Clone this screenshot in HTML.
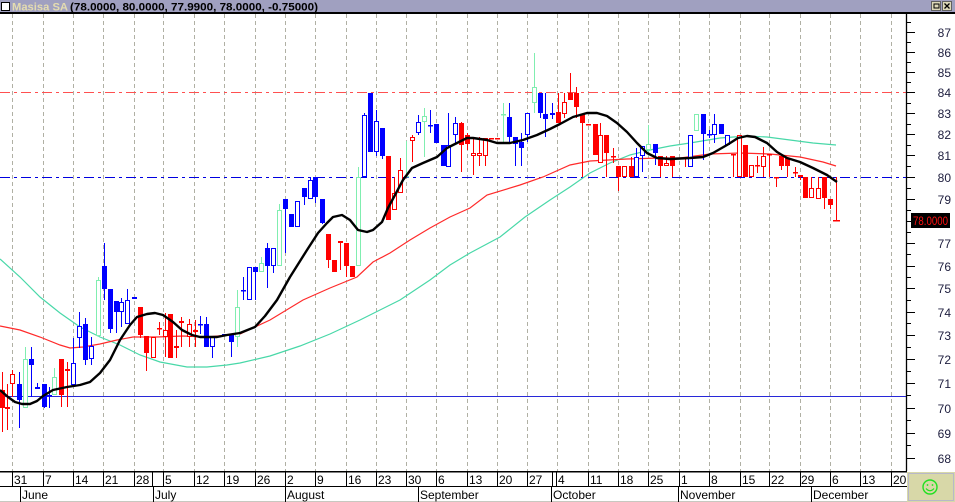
<!DOCTYPE html>
<html><head><meta charset="utf-8"><style>
html,body{margin:0;padding:0;background:#fff;}
svg{display:block;font-family:"Liberation Sans",Arial,sans-serif;}
.B{fill:#0000ff}.b{fill:#fff;stroke:#0000ff;stroke-width:1}
.R{fill:#ff0000}.r{fill:#fff;stroke:#ff0000;stroke-width:1}
.g{fill:#fff;stroke:#80eeb0;stroke-width:1}.G{fill:#80eeb0}
.yl{font-size:12px;fill:#202040;text-anchor:end}
.dl{font-size:12px;fill:#000}
</style></head><body>
<svg width="955" height="502" viewBox="0 0 955 502" xmlns="http://www.w3.org/2000/svg">
<rect x="0" y="0" width="955" height="502" fill="#fff"/>
<!-- title bar -->
<rect x="0" y="0" width="955" height="12" fill="#a0a0c0"/>
<rect x="0" y="12" width="955" height="2" fill="#000"/>
<rect x="1.5" y="2.5" width="8" height="8" fill="#fff" stroke="#000"/>
<text x="12" y="10.5" font-size="11" font-weight="bold" fill="#e4dcb0" textLength="56" lengthAdjust="spacingAndGlyphs">Masisa SA</text>
<text x="70" y="10.5" font-size="11" font-weight="bold" fill="#000" textLength="248" lengthAdjust="spacingAndGlyphs">(78.0000, 80.0000, 77.9900, 78.0000, -0.75000)</text>
<rect x="931.5" y="1.5" width="9" height="9" fill="#dcd8b8" stroke="#606060"/>
<rect x="934" y="4" width="5" height="4" fill="none" stroke="#000"/>
<rect x="942.5" y="1.5" width="9" height="9" fill="#dcd8b8" stroke="#606060"/>
<path d="M944.5 3.5L949.5 8.5M949.5 3.5L944.5 8.5" stroke="#000" stroke-width="1.3"/>

<!-- vertical dashed grid -->
<g stroke="#b0b0a4" stroke-width="1" stroke-dasharray="4 3">
<path d="M12.5 14V471M43.5 14V471M73.5 14V471M103.5 14V471M134.5 14V471M163.5 14V471M194.5 14V471M224.5 14V471M255.5 14V471M285.5 14V471M315.5 14V471M346.5 14V471M376.5 14V471M406.5 14V471M436.5 14V471M467.5 14V471M497.5 14V471M527.5 14V471M557.5 14V471M588.5 14V471M618.5 14V471M648.5 14V471M679.5 14V471M709.5 14V471M740.5 14V471M769.5 14V471M800.5 14V471M830.5 14V471M860.5 14V471M891.5 14V471"/>
</g>

<!-- horizontal reference lines -->
<path d="M0 92.5H906" stroke="#ff5050" stroke-width="1" stroke-dasharray="10 4 3 4"/>
<path d="M0 177.5H906" stroke="#0000e0" stroke-width="1" stroke-dasharray="10 4 3 4"/>
<path d="M0 396.5H906" stroke="#2828d8" stroke-width="1"/>

<!-- long MA (teal) -->
<polyline fill="none" stroke="#48d8a8" stroke-width="1.2" points="0,259 20,277 40,297 60,313 80,327 100,337 120,345 140,355 160,362 187,367 207,367 227,365 240,363 270,356 300,346 330,334 360,320 380,310 400,300 430,280 450,265 470,253 500,237 525,217 550,200 570,187 590,173 610,163 630,155 650,150 670,146 690,143 720,138 747,136 767,137 790,140 813,143 836,145"/>
<!-- mid MA (red) -->
<polyline fill="none" stroke="#ff2a2a" stroke-width="1.2" points="0,326 20,330 40,337 60,345 70,348 83,347 100,344 117,340 133,337 157,337 183,336 207,337 240,334 270,320 303,300 330,288 357,277 373,262 390,253 410,240 430,228 450,217 470,208 487,195 520,185 543,177 570,165 590,161 627,159 660,158 680,158 710,154 740,153 770,154 800,157 823,162 836,166"/>

<!-- candles: wicks -->
<path fill="none" stroke="#0000ff" stroke-width="1" d="M19.5 372V428M31.5 347V397M37.5 383V389M44.5 384V408M49.5 387V408M73.5 338V385M79.5 312V348M85.5 318V365M91.5 337V365M104.5 243V300M110.5 289V333M116.5 301V333M121.5 298V327M127.5 289V324M200.5 316V334M206.5 317V347M212.5 336V358M231.5 334V357M243.5 277V300M249.5 267V300M255.5 267V300M267.5 243V288M273.5 248V273M285.5 199V253M291.5 214V227M297.5 201V227M304.5 188V205M310.5 177V199M315.5 177V203M322.5 199V224M364.5 113V177M370.5 93V152M376.5 110V156M382.5 128V159M418.5 115V135M430.5 110V133M436.5 124V143M443.5 145V166M448.5 113V167M455.5 117V143M509.5 103V143M515.5 137V166M521.5 133V166M527.5 113V142M540.5 93V118M545.5 93V137M552.5 103V119M636.5 148V177M642.5 146V172M655.5 144V165M690.5 135V167M703.5 114V160M709.5 130V138M714.5 114V143M721.5 124V134M727.5 135V145"/>
<path fill="none" stroke="#ff0000" stroke-width="1" d="M2.5 372V432M7.5 384V430M12.5 370V397M61.5 359V407M67.5 362V407M140.5 307V338M146.5 336V371M153.5 337V358M159.5 322V335M165.5 313V357M170.5 314V358M176.5 330V358M181.5 317V347M189.5 319V347M195.5 320V347M328.5 234V268M334.5 260V272M340.5 242V270M346.5 243V277M352.5 266V277M388.5 156V220M394.5 177V210M400.5 158V193M412.5 135V162M461.5 122V172M467.5 133V150M473.5 137V175M479.5 137V166M485.5 138V166M558.5 93V123M564.5 93V118M570.5 73V100M576.5 87V118M582.5 114V177M595.5 124V155M600.5 123V163M606.5 135V177M613.5 148V163M618.5 166V191M624.5 166V177M631.5 157V177M660.5 156V177M666.5 156V166M672.5 156V177M685.5 157V167M733.5 154V177M739.5 135V177M745.5 145V177M751.5 165V177M757.5 156V173M763.5 147V177M769.5 154V177M776.5 177V187M781.5 156V170M787.5 158V177M795.5 167V177M800.5 175V180M805.5 177V198M811.5 177V198M818.5 177V199M824.5 177V209M830.5 199V209M836.5 177V220"/>
<path fill="none" stroke="#80eeb0" stroke-width="1" d="M25.5 347V408M54.5 368V395M98.5 277V337M237.5 290V347M261.5 257V272M279.5 204V266M358.5 167V266M406.5 141V177M424.5 108V157M503.5 103V142M534.5 53V113M648.5 125V156M696.5 114V131"/>

<!-- blue filled bodies -->
<g class="B">
<rect x="17" y="384" width="5" height="16"/><rect x="29" y="359" width="5" height="6"/><rect x="35" y="387" width="5" height="2"/><rect x="42" y="384" width="5" height="23"/><rect x="47" y="395" width="5" height="1.5"/><rect x="83" y="324" width="5" height="36"/><rect x="102" y="266" width="5" height="23"/><rect x="108" y="289" width="5" height="40"/><rect x="114" y="301" width="5" height="11"/><rect x="132" y="297" width="5" height="2"/><rect x="198" y="324" width="5" height="1.5"/><rect x="204" y="324" width="5" height="23"/><rect x="216" y="336" width="5" height="1.5"/><rect x="222" y="334" width="5" height="1.5"/><rect x="229" y="334" width="5" height="8"/><rect x="241" y="290" width="5" height="1.5"/><rect x="253" y="267" width="5" height="5"/><rect x="265" y="248" width="5" height="18"/><rect x="283" y="199" width="5" height="10"/><rect x="289" y="214" width="5" height="13"/><rect x="302" y="188" width="5" height="9"/><rect x="313" y="177" width="5" height="20"/><rect x="320" y="199" width="5" height="24"/><rect x="368" y="93" width="5" height="59"/><rect x="380" y="128" width="5" height="28"/><rect x="428" y="125" width="5" height="1.5"/><rect x="434" y="124" width="5" height="19"/><rect x="441" y="145" width="5" height="21"/><rect x="507" y="117" width="5" height="20"/><rect x="513" y="137" width="5" height="7"/><rect x="519" y="142" width="5" height="6"/><rect x="538" y="93" width="5" height="20"/><rect x="543" y="114" width="5" height="5"/><rect x="550" y="113" width="5" height="2"/><rect x="653" y="144" width="5" height="9"/><rect x="701" y="114" width="5" height="20"/><rect x="707" y="134" width="5" height="1.5"/><rect x="719" y="124" width="5" height="10"/>
</g>
<!-- blue hollow -->
<g class="b">
<rect x="71.5" y="363.5" width="4" height="21"/><rect x="77.5" y="326.5" width="4" height="11"/><rect x="89.5" y="346.5" width="4" height="12"/><rect x="119.5" y="302.5" width="4" height="9"/><rect x="125.5" y="300.5" width="4" height="23"/><rect x="210.5" y="336.5" width="4" height="10"/><rect x="247.5" y="267.5" width="4" height="32"/><rect x="271.5" y="248.5" width="4" height="17"/><rect x="295.5" y="201.5" width="4" height="25"/><rect x="308.5" y="180.5" width="4" height="18"/><rect x="362.5" y="115.5" width="4" height="61"/><rect x="374.5" y="121.5" width="4" height="30"/><rect x="416.5" y="122.5" width="4" height="10"/><rect x="446.5" y="145.5" width="4" height="21"/><rect x="453.5" y="123.5" width="4" height="11"/><rect x="525.5" y="113.5" width="4" height="21"/><rect x="634.5" y="157.5" width="4" height="19"/><rect x="640.5" y="146.5" width="4" height="9"/><rect x="688.5" y="135.5" width="4" height="31"/><rect x="712.5" y="124.5" width="4" height="10"/><rect x="725.5" y="135.5" width="4" height="9"/>
</g>
<!-- red filled -->
<g class="R">
<rect x="0" y="390" width="5" height="18"/><rect x="5" y="407" width="5" height="2"/><rect x="59" y="359" width="5" height="36"/><rect x="65" y="369" width="5" height="2"/><rect x="138" y="307" width="5" height="28"/><rect x="144" y="336" width="5" height="17"/><rect x="157" y="328" width="5" height="1.5"/><rect x="168" y="314" width="5" height="44"/><rect x="174" y="346" width="5" height="2"/><rect x="179" y="321" width="5" height="2"/><rect x="193" y="330" width="5" height="2"/><rect x="326" y="234" width="5" height="26"/><rect x="332" y="260" width="5" height="12"/><rect x="338" y="241" width="5" height="2"/><rect x="344" y="243" width="5" height="23"/><rect x="350" y="266" width="5" height="11"/><rect x="386" y="156" width="5" height="64"/><rect x="459" y="123" width="5" height="22"/><rect x="465" y="135" width="5" height="9"/><rect x="489" y="138" width="5" height="1.5"/><rect x="495" y="138" width="5" height="1.5"/><rect x="556" y="112" width="5" height="11"/><rect x="568" y="93" width="5" height="7"/><rect x="574" y="93" width="5" height="14"/><rect x="580" y="114" width="5" height="9"/><rect x="586" y="124" width="5" height="1.5"/><rect x="593" y="124" width="5" height="31"/><rect x="604" y="135" width="5" height="18"/><rect x="611" y="156" width="5" height="1.5"/><rect x="616" y="166" width="5" height="11"/><rect x="629" y="166" width="5" height="11"/><rect x="658" y="156" width="5" height="10"/><rect x="670" y="156" width="5" height="10"/><rect x="677" y="158" width="5" height="1.5"/><rect x="683" y="157" width="5" height="1.5"/><rect x="731" y="154" width="5" height="1.5"/><rect x="743" y="145" width="5" height="32"/><rect x="755" y="165" width="5" height="1.5"/><rect x="767" y="154" width="5" height="1.5"/><rect x="774" y="177" width="5" height="1.5"/><rect x="779" y="156" width="5" height="10"/><rect x="785" y="158" width="5" height="8"/><rect x="793" y="172" width="5" height="1.5"/><rect x="798" y="175" width="5" height="2"/><rect x="803" y="177" width="5" height="21"/><rect x="822" y="177" width="5" height="21"/><rect x="828" y="199" width="5" height="6"/><rect x="833" y="220" width="7" height="1.5"/>
</g>
<!-- red hollow -->
<g class="r">
<rect x="10.5" y="374.5" width="4" height="9"/><rect x="151.5" y="337.5" width="4" height="20"/><rect x="163.5" y="330.5" width="4" height="6"/><rect x="187.5" y="324.5" width="4" height="12"/><rect x="392.5" y="193.5" width="4" height="16"/><rect x="398.5" y="170.5" width="4" height="22"/><rect x="410.5" y="137.5" width="4" height="3"/><rect x="471.5" y="153.5" width="4" height="2"/><rect x="477.5" y="153.5" width="4" height="2"/><rect x="483.5" y="138.5" width="4" height="17"/><rect x="562.5" y="102.5" width="4" height="11"/><rect x="598.5" y="135.5" width="4" height="27"/><rect x="622.5" y="166.5" width="4" height="10"/><rect x="664.5" y="163.5" width="4" height="2"/><rect x="737.5" y="135.5" width="4" height="41"/><rect x="749.5" y="165.5" width="4" height="11"/><rect x="761.5" y="156.5" width="4" height="10"/><rect x="809.5" y="188.5" width="4" height="9"/><rect x="816.5" y="188.5" width="4" height="10"/>
</g>
<!-- green -->
<g class="g">
<rect x="23.5" y="359.5" width="4" height="48"/><rect x="52.5" y="377.5" width="4" height="17"/><rect x="96.5" y="280.5" width="4" height="55"/><rect x="235.5" y="307.5" width="4" height="29"/><rect x="259.5" y="263.5" width="4" height="8"/><rect x="277.5" y="210.5" width="4" height="55"/><rect x="356.5" y="177.5" width="4" height="88"/><rect x="422.5" y="116.5" width="4" height="5"/><rect x="532.5" y="87.5" width="4" height="15"/><rect x="646.5" y="144.5" width="4" height="5"/><rect x="694.5" y="114.5" width="4" height="16"/>
</g>
<g class="G"><rect x="404" y="176" width="5" height="1.5"/><rect x="501" y="114" width="5" height="1.5"/></g>

<!-- short MA (black) -->
<polyline fill="none" stroke="#000" stroke-width="2.4" stroke-linejoin="round" points="0,390 8,397 15,402 22,404 30,404 37,401 43,396 53,390 67,387 80,385 90,382 100,373 110,360 120,340 130,325 137,317 147,314 155,313 163,315 173,322 182,330 192,335 200,337 217,337 227,335 240,333 255,327 265,316 277,300 290,277 307,250 318,233 327,223 333,217 342,215 350,220 358,230 367,232 373,230 382,222 388,208 395,195 403,180 412,168 423,163 437,157 447,148 457,143 467,138 473,138 487,140 497,143 510,143 523,140 537,135 550,129 560,124 573,117 587,113 597,113 607,116 617,123 627,132 637,143 647,153 657,158 670,159 690,158 703,157 713,153 727,145 738,138 747,136 755,137 767,143 777,152 787,158 800,162 813,168 827,175 837,182"/>

<!-- right axis -->
<rect x="906" y="14" width="49" height="457" fill="#fff"/>
<path d="M906.5 14V471" stroke="#000" stroke-width="1.3"/>
<path stroke="#000" stroke-width="1" fill="none" d="M906 32.5H915M906 52.5H915M906 72.5H915M906 92.5H915M906 113.5H915M906 134.5H915M906 155.5H915M906 177.5H915M906 199.5H915M906 221.5H915M906 243.5H915M906 266.5H915M906 288.5H915M906 312.5H915M906 335.5H915M906 359.5H915M906 383.5H915M906 408.5H915M906 433.5H915M906 458.5H915
M906 22.5H911M906 42.5H911M906 62.5H911M906 82.5H911M906 103.5H911M906 124.5H911M906 145.5H911M906 166.5H911M906 188.5H911M906 210.5H911M906 232.5H911M906 254.5H911M906 277.5H911M906 300.5H911M906 323.5H911M906 347.5H911M906 371.5H911M906 395.5H911M906 420.5H911M906 445.5H911"/>
<text class="yl" x="951" y="37">87</text>
<text class="yl" x="951" y="57">86</text>
<text class="yl" x="951" y="77">85</text>
<text class="yl" x="951" y="97">84</text>
<text class="yl" x="951" y="118">83</text>
<text class="yl" x="951" y="139">82</text>
<text class="yl" x="951" y="160">81</text>
<text class="yl" x="951" y="182">80</text>
<text class="yl" x="951" y="204">79</text>
<text class="yl" x="951" y="248">77</text>
<text class="yl" x="951" y="271">76</text>
<text class="yl" x="951" y="293">75</text>
<text class="yl" x="951" y="317">74</text>
<text class="yl" x="951" y="340">73</text>
<text class="yl" x="951" y="364">72</text>
<text class="yl" x="951" y="388">71</text>
<text class="yl" x="951" y="413">70</text>
<text class="yl" x="951" y="438">69</text>
<text class="yl" x="951" y="463">68</text>
<rect x="911" y="213" width="39" height="15" fill="#000"/>
<text x="913" y="225" font-size="11.5" fill="#ff1010" textLength="35" lengthAdjust="spacingAndGlyphs">78.0000</text>

<!-- date axis -->
<rect x="0" y="471" width="907" height="31" fill="#fff"/>
<rect x="0" y="471" width="907" height="1.5" fill="#000"/>
<path d="M0 486.5H907" stroke="#000" stroke-width="1"/>
<path d="M0 501.5H907" stroke="#c8c8c0" stroke-width="1"/>
<path stroke="#000" stroke-width="1" d="M12.5 472V486M43.5 472V486M73.5 472V486M103.5 472V486M134.5 472V486M152.5 472V486M163.5 472V486M194.5 472V486M224.5 472V486M255.5 472V486M285.5 472V486M315.5 472V486M346.5 472V486M376.5 472V486M406.5 472V486M436.5 472V486M467.5 472V486M497.5 472V486M527.5 472V486M552.5 472V486M556.5 472V486M588.5 472V486M618.5 472V486M648.5 472V486M679.5 472V486M709.5 472V486M740.5 472V486M769.5 472V486M800.5 472V486M830.5 472V486M860.5 472V486M891.5 472V486
M20.5 487V502M153.5 487V502M285.5 487V502M418.5 487V502M551.5 487V502M678.5 487V502M811.5 487V502"/>
<g class="dl">
<text x="14" y="484">31</text><text x="45" y="484">7</text><text x="75" y="484">14</text><text x="105" y="484">21</text><text x="136" y="484">28</text><text x="165" y="484">5</text><text x="196" y="484">12</text><text x="226" y="484">19</text><text x="257" y="484">26</text><text x="287" y="484">2</text><text x="317" y="484">9</text><text x="348" y="484">16</text><text x="378" y="484">23</text><text x="408" y="484">30</text><text x="438" y="484">6</text><text x="469" y="484">13</text><text x="499" y="484">20</text><text x="529" y="484">27</text><text x="558" y="484">4</text><text x="590" y="484">11</text><text x="620" y="484">18</text><text x="650" y="484">25</text><text x="681" y="484">1</text><text x="711" y="484">8</text><text x="742" y="484">15</text><text x="771" y="484">22</text><text x="801" y="484">29</text><text x="832" y="484">6</text><text x="862" y="484">13</text><text x="893" y="484">20</text>
<text x="22" y="499">June</text><text x="155" y="499">July</text><text x="287" y="499">August</text><text x="420" y="499">September</text><text x="553" y="499">October</text><text x="680" y="499">November</text><text x="813" y="499">December</text>
</g>

<!-- smiley box -->
<rect x="907" y="472" width="48" height="30" fill="#d8d8a8"/>
<rect x="908.5" y="473.5" width="45" height="27" fill="none" stroke="#b8b8c8" stroke-width="1"/>
<circle cx="930" cy="487" r="7" fill="none" stroke="#20e020" stroke-width="1.4"/>
<circle cx="927.5" cy="485" r="0.9" fill="#20e020"/>
<circle cx="932.5" cy="485" r="0.9" fill="#20e020"/>
<path d="M926 488.5Q930 493 934 488.5" fill="none" stroke="#20e020" stroke-width="1.2"/>
</svg>
</body></html>
